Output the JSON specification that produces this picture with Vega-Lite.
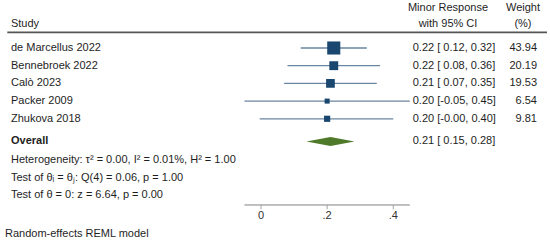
{
  "$schema": "https://vega.github.io/schema/vega-lite/v6.json",
  "width": 550,
  "height": 243,
  "autosize": {"type": "fit", "contains": "padding"},
  "padding": 0,
  "background": "white",
  "config": {
    "view": {"stroke": null},
    "axis": {"disable": true},
    "legend": {"disable": true},
    "text": {"font": "Liberation Sans", "fontSize": 11, "color": "#1e1e1e"}
  },
  "datasets": {
    "studies": [
      {"study": "de Marcellus 2022", "est": 0.22, "lower": 0.12, "upper": 0.32, "weight": 43.94, "ci": "0.22 [ 0.12, 0.32]"},
      {"study": "Bennebroek 2022", "est": 0.22, "lower": 0.08, "upper": 0.36, "weight": 20.19, "ci": "0.22 [ 0.08, 0.36]"},
      {"study": "Calò 2023", "est": 0.21, "lower": 0.07, "upper": 0.35, "weight": 19.53, "ci": "0.21 [ 0.07, 0.35]"},
      {"study": "Packer 2009", "est": 0.20, "lower": -0.05, "upper": 0.45, "weight": 6.54, "ci": "0.20 [-0.05, 0.45]"},
      {"study": "Zhukova 2018", "est": 0.20, "lower": -0.004, "upper": 0.40, "weight": 9.81, "ci": "0.20 [-0.00, 0.40]"}
    ],
    "overall": [
      {"study": "Overall", "est": 0.21, "lower": 0.15, "upper": 0.28, "ci": "0.21 [ 0.15, 0.28]"}
    ],
    "notes": [
      {"key": "het", "text": "Heterogeneity: τ² = 0.00, I² = 0.01%, H² = 1.00"},
      {"key": "test1", "text": "Test of θᵢ = θⱼ: Q(4) = 0.06, p = 1.00"},
      {"key": "test2", "text": "Test of θ = 0: z = 6.64, p = 0.00"}
    ],
    "ticks": [
      {"tick": 0, "label": "0"},
      {"tick": 0.2, "label": ".2"},
      {"tick": 0.4, "label": ".4"}
    ]
  },
  "layer": [
    {
      "data": {"name": "studies"},
      "mark": {"type": "rule", "color": "#6b86a2", "strokeWidth": 1.3},
      "encoding": {
        "x": {"field": "lower", "type": "quantitative", "scale": {"domain": [-0.7891, 0.8738], "nice": false, "zero": false}},
        "x2": {"field": "upper"},
        "y": {
          "field": "study", "type": "nominal", "bandPosition": 0.5,
          "scale": {
            "type": "band",
            "domain": ["top", "header", "de Marcellus 2022", "Bennebroek 2022", "Calò 2023", "Packer 2009", "Zhukova 2018", "Overall", "het", "test1", "test2", "axis", "note"],
            "paddingInner": 0, "paddingOuter": 0.365, "align": 0.29
          }
        }
      }
    },
    {
      "data": {"name": "studies"},
      "mark": {"type": "point", "shape": "square", "filled": true, "color": "#1a476f", "opacity": 1},
      "encoding": {
        "x": {"field": "est", "type": "quantitative"},
        "y": {"field": "study", "type": "nominal", "bandPosition": 0.5},
        "size": {"field": "weight", "type": "quantitative", "scale": {"type": "linear", "domain": [0, 100], "range": [0, 390], "zero": true}}
      }
    },
    {
      "data": {"name": "studies"},
      "mark": {"type": "text", "align": "left"},
      "encoding": {
        "x": {"datum": -0.7559},
        "y": {"field": "study", "type": "nominal", "bandPosition": 0.5},
        "text": {"field": "study"}
      }
    },
    {
      "data": {"name": "studies"},
      "mark": {"type": "text", "align": "left"},
      "encoding": {
        "x": {"datum": 0.4587},
        "y": {"field": "study", "type": "nominal", "bandPosition": 0.5},
        "text": {"field": "ci"}
      }
    },
    {
      "data": {"name": "studies"},
      "mark": {"type": "text", "align": "right"},
      "encoding": {
        "x": {"datum": 0.8345},
        "y": {"field": "study", "type": "nominal", "bandPosition": 0.5},
        "text": {"field": "weight", "type": "quantitative", "format": ".2f"}
      }
    },
    {
      "data": {"name": "overall"},
      "mark": {"type": "point", "shape": "M -1 0 L 0 -0.19 L 1 0 L 0 0.19 Z", "filled": true, "color": "#4e7a2a", "opacity": 1, "size": 2304},
      "encoding": {
        "x": {"field": "est", "type": "quantitative"},
        "y": {"field": "study", "type": "nominal", "bandPosition": 0.78}
      }
    },
    {
      "data": {"name": "overall"},
      "mark": {"type": "text", "align": "left", "fontWeight": "bold"},
      "encoding": {
        "x": {"datum": -0.7559},
        "y": {"field": "study", "type": "nominal", "bandPosition": 0.78},
        "text": {"field": "study"}
      }
    },
    {
      "data": {"name": "overall"},
      "mark": {"type": "text", "align": "left"},
      "encoding": {
        "x": {"datum": 0.4587},
        "y": {"field": "study", "type": "nominal", "bandPosition": 0.78},
        "text": {"field": "ci"}
      }
    },
    {
      "data": {"name": "notes"},
      "mark": {"type": "text", "align": "left"},
      "encoding": {
        "x": {"datum": -0.7559},
        "y": {"field": "key", "type": "nominal", "bandPosition": 0.83},
        "text": {"field": "text"}
      }
    },
    {
      "data": {"name": "overall"},
      "mark": {"type": "text", "align": "left"},
      "encoding": {
        "x": {"datum": -0.7559},
        "y": {"datum": "header", "type": "nominal", "bandPosition": 0.14},
        "text": {"value": "Study"}
      }
    },
    {
      "data": {"name": "overall"},
      "mark": {"type": "text", "align": "center"},
      "encoding": {
        "x": {"datum": 0.5654},
        "y": {"datum": "top", "type": "nominal", "bandPosition": 0.26},
        "text": {"value": "Minor Response"}
      }
    },
    {
      "data": {"name": "overall"},
      "mark": {"type": "text", "align": "center"},
      "encoding": {
        "x": {"datum": 0.5654},
        "y": {"datum": "header", "type": "nominal", "bandPosition": 0.14},
        "text": {"value": "with 95% CI"}
      }
    },
    {
      "data": {"name": "overall"},
      "mark": {"type": "text", "align": "center"},
      "encoding": {
        "x": {"datum": 0.7921},
        "y": {"datum": "top", "type": "nominal", "bandPosition": 0.26},
        "text": {"value": "Weight"}
      }
    },
    {
      "data": {"name": "overall"},
      "mark": {"type": "text", "align": "center"},
      "encoding": {
        "x": {"datum": 0.7921},
        "y": {"datum": "header", "type": "nominal", "bandPosition": 0.14},
        "text": {"value": "(%)"}
      }
    },
    {
      "data": {"name": "overall"},
      "mark": {"type": "rule", "color": "#555555", "strokeWidth": 1.6},
      "encoding": {
        "x": {"datum": -0.767},
        "x2": {"datum": 0.8647},
        "y": {"datum": "header", "type": "nominal", "bandPosition": 0.62}
      }
    },
    {
      "data": {"name": "overall"},
      "mark": {"type": "rule", "color": "#808080", "strokeWidth": 1},
      "encoding": {
        "x": {"datum": -0.05},
        "x2": {"datum": 0.45},
        "y": {"datum": "axis", "type": "nominal", "bandPosition": 0.37}
      }
    },
    {
      "data": {"name": "ticks"},
      "mark": {"type": "tick", "color": "#808080", "thickness": 1, "size": 4, "orient": "vertical"},
      "encoding": {
        "x": {"field": "tick", "type": "quantitative"},
        "y": {"datum": "axis", "type": "nominal", "bandPosition": 0.47}
      }
    },
    {
      "data": {"name": "ticks"},
      "mark": {"type": "text", "align": "center", "color": "#333333"},
      "encoding": {
        "x": {"field": "tick", "type": "quantitative"},
        "y": {"datum": "axis", "type": "nominal", "bandPosition": 0.99},
        "text": {"field": "label"}
      }
    },
    {
      "data": {"name": "overall"},
      "mark": {"type": "text", "align": "left"},
      "encoding": {
        "x": {"datum": -0.774},
        "y": {"datum": "note", "type": "nominal", "bandPosition": 1.0},
        "text": {"value": "Random-effects REML model"}
      }
    }
  ]
}
